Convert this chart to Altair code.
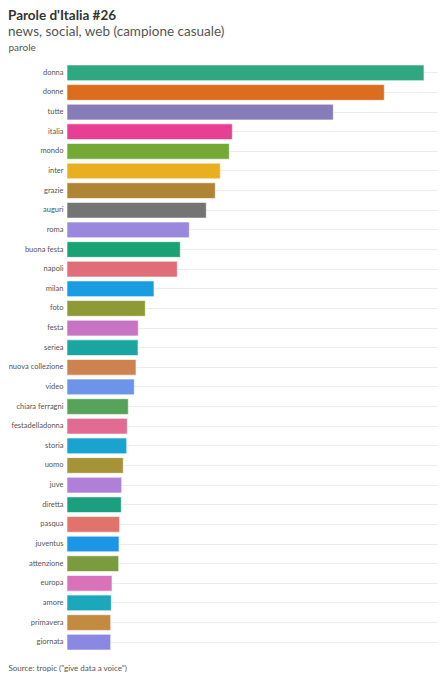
import altair as alt
import pandas as pd

parole = ["donna", "donne", "tutte", "italia", "mondo", "inter", "grazie", "auguri",
          "roma", "buona festa", "napoli", "milan", "foto", "festa", "seriea",
          "nuova collezione", "video", "chiara ferragni", "festadelladonna", "storia",
          "uomo", "juve", "diretta", "pasqua", "juventus", "attenzione", "europa",
          "amore", "primavera", "giornata"]
valori = [357, 317.3, 266.3, 165.3, 162.3, 153.3, 148.3, 139.3, 122.3, 113.3, 110.3,
          87, 78.3, 71.3, 71, 69, 67.3, 61.3, 60.3, 59.7, 56.3, 54.7, 54.3, 52.7, 52,
          51.7, 45, 44.3, 43.7, 43.7]
colori = ["#2fa882", "#dc6d1e", "#857cb8", "#e83e93", "#74a935", "#e8b021", "#b08437",
          "#747474", "#9a88dd", "#1ba274", "#e06e78", "#1a9de0", "#8e9a35", "#c874c4",
          "#1aa5a0", "#cd8350", "#6d94e8", "#57a35a", "#e06c93", "#1aa3cf", "#a69337",
          "#b07fd8", "#1b9f7f", "#e0746c", "#1e96e6", "#7a9b3e", "#d873b9", "#1aa8ba",
          "#c48a41", "#8a88e3"]

df = pd.DataFrame({"parola": parole, "valore": valori})

FONT = "Lato"

chart = alt.Chart(df).mark_bar(
    stroke="white", strokeWidth=1, strokeOpacity=0.6
).encode(
    y=alt.Y("parola:N", sort=parole,
            scale=alt.Scale(paddingInner=0.2, paddingOuter=0.1),
            axis=alt.Axis(title="parole", titleAngle=0, titleAlign="left",
                          titleBaseline="alphabetic", titleX=-59, titleY=-13,
                          titleFontSize=10, titleFontWeight="normal", titleColor="#555",
                          titleFont=FONT, labelFont=FONT, labelFontSize=7.5,
                          labelColor="#555", labelPadding=4, ticks=False, domain=False,
                          grid=True, gridColor="#ececec", bandPosition=0.5)),
    x=alt.X("valore:Q", scale=alt.Scale(domain=[0, 371], nice=False),
            axis=alt.Axis(title='Source: tropic ("give data a voice")', labels=False,
                          ticks=False, domain=False, grid=False, titleAnchor="start",
                          titleAlign="left", titleBaseline="alphabetic", titleX=-59,
                          titleY=18, titleFontSize=8, titleFontWeight="normal",
                          titleColor="#555", titleFont=FONT)),
    color=alt.Color("parola:N", scale=alt.Scale(domain=parole, range=colori), legend=None),
).properties(
    width=371, height=589,
    title=alt.TitleParams(text="Parole d'Italia #26",
                          subtitle="news, social, web (campione casuale)",
                          anchor="start", frame="group", dx=-59, font=FONT, fontSize=13.5,
                          fontWeight="bold", color="#333", subtitleFont=FONT,
                          subtitleFontSize=13.5, subtitleColor="#555", offset=4,
                          subtitlePadding=2),
    autosize=alt.AutoSizeParams(type="none"),
    padding={"left": 59, "top": 55, "right": 0, "bottom": 20},
).configure_view(stroke=None)

chart.save("out.html", embed_options={"renderer": "svg", "actions": False})
